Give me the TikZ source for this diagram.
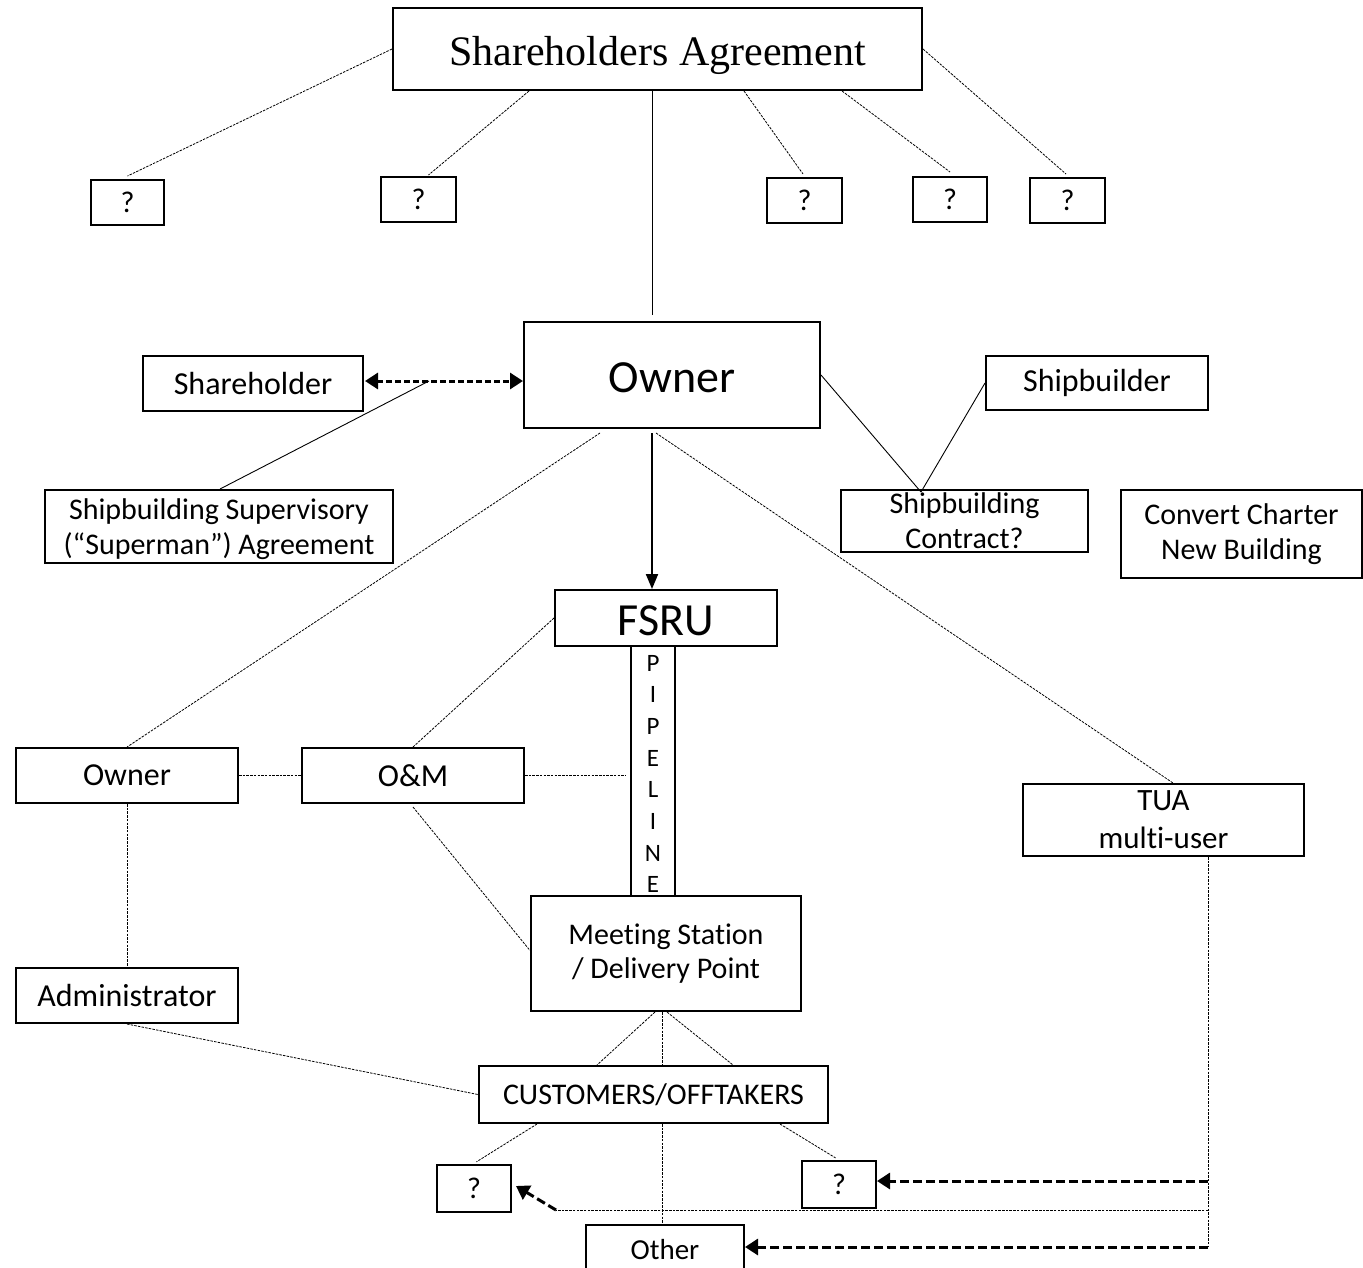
\documentclass[tikz,border=0pt]{standalone}
\usepackage{fontspec}
\setmainfont{Carlito}[Ligatures={NoCommon}]
\newfontfamily\titlefont{Liberation Serif}
\usetikzlibrary{arrows.meta,calc}
\begin{document}
\begin{tikzpicture}[x=1pt,y=-1pt,
  box/.style={draw=black,line width=2pt,fill=white,inner sep=0pt,align=center,
    font=\fontsize{30}{35}\selectfont},
  onebox/.style={box,font=\fontsize{32}{36}\selectfont},
  thin/.style={line width=0.9pt},
  dots/.style={line width=0.8pt,dash pattern=on 2.5pt off 1.2pt},
  bigdash/.style={line width=3pt,dash pattern=on 9pt off 4pt,
    -{Triangle[length=13pt,width=16pt]}},
]
\useasboundingbox (0,0) rectangle (1363,1267);
\clip (0,0) rectangle (1363,1267);
\fill[white] (0,0) rectangle (1363,1267);

% ---- nodes ----
\node[box,minimum width=529,minimum height=82,text height=40pt,text depth=8pt,
  font=\titlefont\fontsize{42}{48}\selectfont] (sa) at (657.5,49) {Shareholders Agreement};
\node[box,minimum width=73,minimum height=45] (q1) at (127.5,202.5) {?};
\node[box,minimum width=75,minimum height=45] (q2) at (418.5,199.5) {?};
\node[box,minimum width=75,minimum height=45] (q3) at (804.5,200.5) {?};
\node[box,minimum width=74,minimum height=45] (q4) at (950,199.5) {?};
\node[box,minimum width=75,minimum height=45] (q5) at (1067.5,200.5) {?};

\node[box,minimum width=296,minimum height=106,text height=34pt,text depth=0pt,
  font=\fontsize{46}{52}\selectfont] (owner) at (672,375) {Owner};
\node[onebox,minimum width=220,minimum height=55] (sh) at (253,383.5) {Shareholder};
\node[box,minimum width=348,minimum height=73] (sup) at (219,526.5) {\rule{0pt}{26pt}Shipbuilding Supervisory\\(``Superman'') Agreement};
\node[onebox,minimum width=222,minimum height=54] (sb) at (1097,383) {Shipbuilder};
\node[box,minimum width=247,minimum height=62] (sc) at (964.5,521) {Shipbuilding\\Contract?};
\node[box,minimum width=241,minimum height=88] (cc) at (1241.5,534) {Convert Charter\\New Building};

\node[box,minimum width=222,minimum height=56,text height=36pt,text depth=2pt,
  font=\fontsize{46}{52}\selectfont] (fsru) at (666,618) {FSRU};
\node[box,minimum width=44,minimum height=250] (pipe) at (653,771) {};
\node[inner sep=0pt,align=center,font=\fontsize{25}{31.7}\selectfont] (pipetxt) at (653,774) {P\\I\\P\\E\\L\\I\\N\\E};

\node[onebox,minimum width=222,minimum height=55] (own2) at (127,775.5) {Owner};
\node[onebox,minimum width=222,minimum height=55] (om) at (413,775.5) {O\&M};
\node[box,minimum width=281,minimum height=72,font=\fontsize{31}{38}\selectfont] (tua) at (1163.5,820) {TUA\\multi-user};
\node[box,minimum width=270,minimum height=115,font=\fontsize{30}{34}\selectfont] (ms) at (666,953.5) {Meeting Station\\/ Delivery Point};
\node[onebox,minimum width=222,minimum height=55] (adm) at (127,995.5) {Administrator};
\node[box,minimum width=349,minimum height=57] (cust) at (653.5,1094.5) {CUSTOMERS/OFFTAKERS};
\node[box,minimum width=74,minimum height=47] (ql) at (474,1188.5) {?};
\node[box,minimum width=74,minimum height=47] (qr) at (839,1184.5) {?};
\node[box,minimum width=158,minimum height=50,font=\fontsize{29}{34}\selectfont] (other) at (665,1250) {Other};

% ---- connectors from Shareholders Agreement ----
\draw[dots] (sa.west) -- ([yshift=3]q1.north);
\draw[dots] ([xshift=137]sa.south west) -- ([xshift=10,yshift=1]q2.north);
\draw[thin] ([xshift=-5.5]sa.south) -- ([xshift=-20,yshift=6]owner.north);
\draw[dots] ([xshift=352]sa.south west) -- ([xshift=-1.5,yshift=3]q3.north);
\draw[dots] ([xshift=450]sa.south west) -- ([yshift=4]q4.north);
\draw[dots] (sa.east) -- ([xshift=-1.5,yshift=3]q5.north);

% ---- around Owner ----
\coordinate (j) at ([xshift=65,yshift=2.5]sh.east);
\coordinate (shr) at ([xshift=1]sh.east);
\draw[line width=3pt,dash pattern=on 6pt off 3pt,
  {Triangle[length=13pt,width=16pt]}-{Triangle[length=13pt,width=16pt]}]
  (shr |- j) -- (j -| owner.west);
\draw[thin] (j) -- ([xshift=1]sup.north);
\draw[thin] (owner.east) -- ([xshift=-43.5,yshift=-3]sc.north);
\draw[thin] (sb.west) -- ([xshift=-43.5,yshift=-3]sc.north);
\draw[line width=2pt,-{Triangle[length=15pt,width=12pt]}]
  ([xshift=-20,yshift=-4]owner.south) -- ([xshift=-14]fsru.north);
\draw[dots] ([xshift=-72,yshift=-4]owner.south) -- (own2.north);
\draw[dots] ([xshift=-16,yshift=-4]owner.south) -- ([xshift=9.5]tua.north);

% ---- middle ----
\draw[dots] (fsru.west) -- (om.north);
\draw[dots] (own2.east) -- (om.west);
\draw[dots,shorten >=5pt] (om.east) -- (om.east -| pipe.west);
\draw[dots] ([yshift=-3]om.south) -- ([yshift=3]ms.west);
\draw[dots] (own2.south) -- (adm.north);
\draw[dots] (adm.south) -- (cust.west);

% ---- below meeting station ----
\coordinate (mv) at ([xshift=-4]ms.south);
\draw[dots] ([xshift=-11]ms.south) -- ([xshift=-56.5]cust.north);
\draw[dots] (mv) -- (mv |- cust.north);
\draw[dots] ([xshift=1]ms.south) -- ([xshift=79.5]cust.north);
\draw[dots] (mv |- cust.south) -- (mv |- other.north);
\draw[dots,shorten >=4pt] ([xshift=-116.5]cust.south) -- ([xshift=-1]ql.north);
\draw[dots,shorten >=4pt] ([xshift=126.5]cust.south) -- (qr.north);

% ---- TUA feed lines ----
\coordinate (ta) at (1208,1181);
\coordinate (tm) at (1208,1210);
\coordinate (tb) at (1208,1247);
\coordinate (tk) at (556,1210);
\draw[dots] ([xshift=44.5]tua.south) -- (tb);
\draw[bigdash] (ta) -- (ta -| qr.east);
\draw[dots] (tm) -- (tk);
\draw[bigdash] (tk) -- ([xshift=4,yshift=2.5]ql.east);
\draw[bigdash] (tb) -- (tb -| other.east);
\end{tikzpicture}
\end{document}
